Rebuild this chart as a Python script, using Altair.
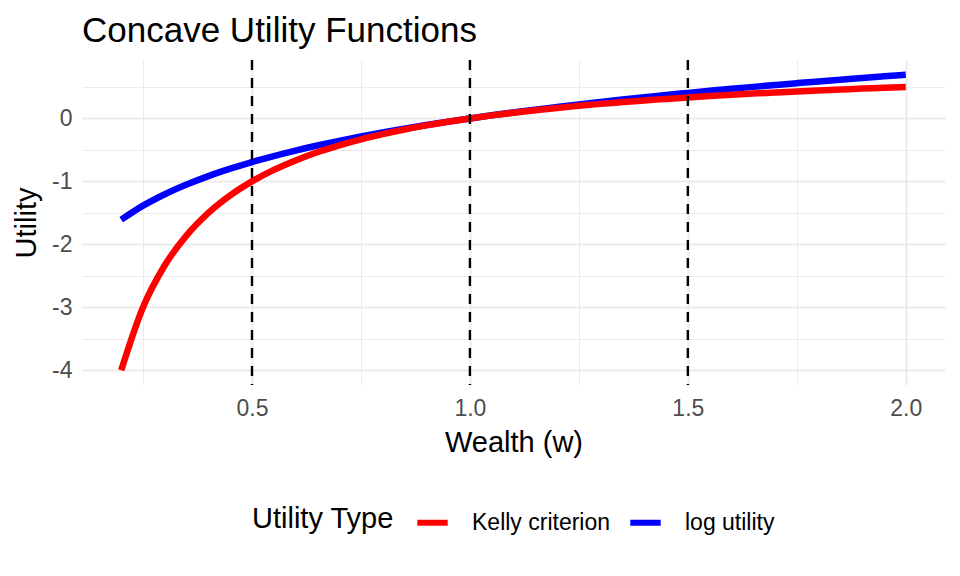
import altair as alt
import pandas as pd

# Wealth grid
w = [0.20, 0.25, 0.30, 0.35, 0.40, 0.45, 0.50, 0.55, 0.60, 0.65, 0.70, 0.75,
     0.80, 0.85, 0.90, 0.95, 1.00, 1.05, 1.10, 1.15, 1.20, 1.25, 1.30, 1.35,
     1.40, 1.45, 1.50, 1.55, 1.60, 1.65, 1.70, 1.75, 1.80, 1.85, 1.90, 1.95, 2.00]

log_utility = [-1.609, -1.386, -1.204, -1.050, -0.916, -0.799, -0.693, -0.598,
               -0.511, -0.431, -0.357, -0.288, -0.223, -0.163, -0.105, -0.051,
               0.000, 0.049, 0.095, 0.140, 0.182, 0.223, 0.262, 0.300, 0.336,
               0.372, 0.405, 0.438, 0.470, 0.501, 0.531, 0.560, 0.588, 0.615,
               0.642, 0.668, 0.693]

kelly_criterion = [-4.000, -3.000, -2.333, -1.857, -1.500, -1.222, -1.000, -0.818,
                   -0.667, -0.538, -0.429, -0.333, -0.250, -0.176, -0.111, -0.053,
                   0.000, 0.048, 0.091, 0.130, 0.167, 0.200, 0.231, 0.259, 0.286,
                   0.310, 0.333, 0.355, 0.375, 0.394, 0.412, 0.429, 0.444, 0.459,
                   0.474, 0.487, 0.500]

series = ["Kelly criterion", "log utility"]
series_colors = ["red", "blue"]
vlines = [0.5, 1.0, 1.5]
x_ticks = [0.25, 0.5, 0.75, 1.0, 1.25, 1.5, 1.75, 2.0]
y_ticks = [-4.0, -3.5, -3.0, -2.5, -2.0, -1.5, -1.0, -0.5, 0.0, 0.5]

df_log = pd.DataFrame({"w": w, "u": log_utility, "type": series[1]})
df_kelly = pd.DataFrame({"w": w, "u": kelly_criterion, "type": series[0]})
df_vl = pd.DataFrame({"w": vlines})

FONT = "Liberation Sans"

x_enc = alt.X(
    "w:Q",
    scale=alt.Scale(domain=[0.11, 2.09], nice=False, zero=False),
    axis=alt.Axis(
        values=x_ticks,
        title="Wealth (w)",
        labelExpr="datum.value % 0.5 == 0 ? format(datum.value, '.1f') : ''",
        gridWidth={"condition": {"test": "datum.value % 0.5 == 0", "value": 2}, "value": 1},
        labelPadding=12,
        titlePadding=8,
    ),
)
y_enc = alt.Y(
    "u:Q",
    scale=alt.Scale(domain=[-4.235, 0.928], nice=False, zero=False),
    axis=alt.Axis(
        values=y_ticks,
        title="Utility",
        labelExpr="datum.value % 1 == 0 ? '' + datum.value : ''",
        gridWidth={"condition": {"test": "datum.value % 1 == 0", "value": 2}, "value": 1},
        labelPadding=10,
        titlePadding=10,
    ),
)
color_enc = alt.Color(
    "type:N",
    scale=alt.Scale(domain=series, range=series_colors),
    legend=alt.Legend(
        title="Utility Type",
        orient="none",
        legendX=170,
        legendY=444,
        direction="horizontal",
        titleOrient="left",
        titleBaseline="middle",
        symbolType="stroke",
        symbolStrokeWidth=6,
        symbolSize=925,
        labelFontSize=23,
        titleFontSize=29,
        labelFont=FONT,
        titleFont=FONT,
        titleFontWeight="normal",
        labelColor="black",
        titleColor="black",
        titlePadding=20,
        labelOffset=21,
        columnPadding=7,
    ),
)

blue = alt.Chart(df_log).mark_line(strokeWidth=6.5, interpolate="monotone").encode(
    x=x_enc, y=y_enc, color=color_enc
)
red = alt.Chart(df_kelly).mark_line(strokeWidth=6.5, interpolate="monotone").encode(
    x=x_enc, y=y_enc, color=color_enc
)
rules = alt.Chart(df_vl).mark_rule(color="black", strokeWidth=2.4, strokeDash=[10, 8]).encode(
    x="w:Q"
)

chart = (
    alt.layer(blue, red, rules)
    .properties(
        width=863,
        height=325,
        autosize=alt.AutoSizeParams(type="none"),
        padding={"left": 74, "top": 52, "right": 7, "bottom": 183},
        title=alt.TitleParams(
            "Concave Utility Functions",
            anchor="start",
            frame="group",
            fontSize=35,
            font=FONT,
            fontWeight="normal",
            color="black",
            baseline="alphabetic",
            offset=19,
            dy=37,
        ),
    )
    .configure_view(stroke=None)
    .configure_axis(
        domain=False,
        ticks=False,
        gridColor="#ebebeb",
        labelFont=FONT,
        labelFontSize=23,
        labelColor="#4d4d4d",
        titleFont=FONT,
        titleFontSize=29,
        titleFontWeight="normal",
        titleColor="black",
    )
)

chart.save("out.html", embed_options={"renderer": "svg", "actions": False})
